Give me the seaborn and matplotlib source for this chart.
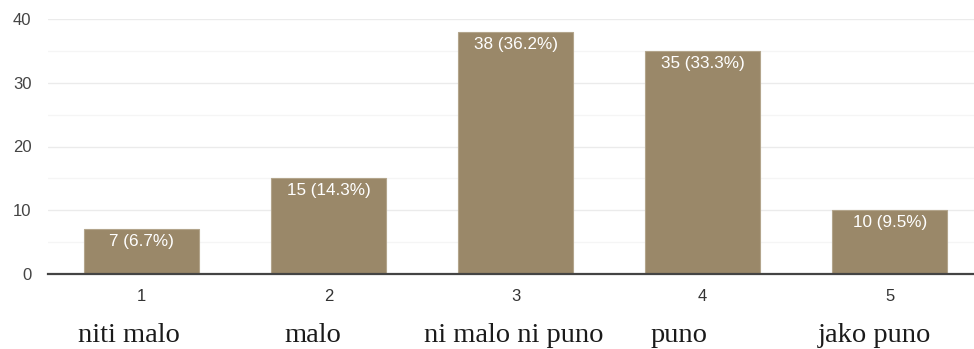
import matplotlib
matplotlib.use("Agg")
import matplotlib.pyplot as plt
import matplotlib.transforms as mtransforms
import seaborn as sns
import pandas as pd

# Survey answers on a 1-5 scale
categories = ["1", "2", "3", "4", "5"]
counts = [7, 15, 38, 35, 10]
percents = [6.7, 14.3, 36.2, 33.3, 9.5]
scale_names = ["niti malo", "malo", "ni malo ni puno", "puno", "jako puno"]
# horizontal nudge of each scale name relative to its bar (in bar units)
name_shift = [-0.07, -0.085, -0.01, -0.128, -0.08]

sns.set_theme(style="white")
plt.rcParams["font.family"] = ["Liberation Sans", "DejaVu Sans"]

df = pd.DataFrame({"answer": categories, "count": counts})

fig = plt.figure(figsize=(9.74, 3.49), dpi=100)
ax = fig.add_axes([48 / 974, 1 - 274 / 349, 1 - 48 / 974, 255 / 349])

bar_color = "#9a8869"
sns.barplot(data=df, x="answer", y="count", color=bar_color, width=0.615,
            saturation=1, edgecolor="#b3a58c", linewidth=0.8, ax=ax, zorder=3)

ax.set_xlim(-0.5, 4.45)
ax.set_ylim(0, 40)
ax.set_yticks([0, 10, 20, 30, 40])
ax.set_yticks([5, 15, 25, 35], minor=True)
ax.grid(axis="y", which="major", color="#ebebeb", linewidth=1.0, zorder=0)
ax.grid(axis="y", which="minor", color="#f5f5f5", linewidth=1.0, zorder=0)
ax.set_axisbelow(True)

for side in ["top", "right", "left"]:
    ax.spines[side].set_visible(False)
ax.spines["bottom"].set_color("#444444")
ax.spines["bottom"].set_linewidth(1.6)
ax.spines["bottom"].set_zorder(4)

ax.tick_params(axis="y", length=0, pad=12, labelsize=12, labelcolor="#444444")
ax.tick_params(axis="y", which="minor", length=0)
ax.tick_params(axis="x", length=0, pad=11, labelsize=12, labelcolor="#333333")
ax.set_xlabel("")
ax.set_ylabel("")

# value labels inside the top of each bar
for i, (c, p) in enumerate(zip(counts, percents)):
    ax.annotate(f"{c} ({p}%)", xy=(i, c), xytext=(0, -9), textcoords="offset points",
                ha="center", va="center", color="white", fontsize=12.3, zorder=5)

# scale names beneath the tick numbers
trans = mtransforms.blended_transform_factory(ax.transData, ax.transAxes)
for i, (name, dx) in enumerate(zip(scale_names, name_shift)):
    ax.text(i + dx, -0.268, name, transform=trans, ha="center", va="baseline",
            fontsize=20.5, color="#1a1a1a", family=["Liberation Serif", "DejaVu Serif"],
            clip_on=False)

fig.savefig("out.png", dpi=100, facecolor="white")
